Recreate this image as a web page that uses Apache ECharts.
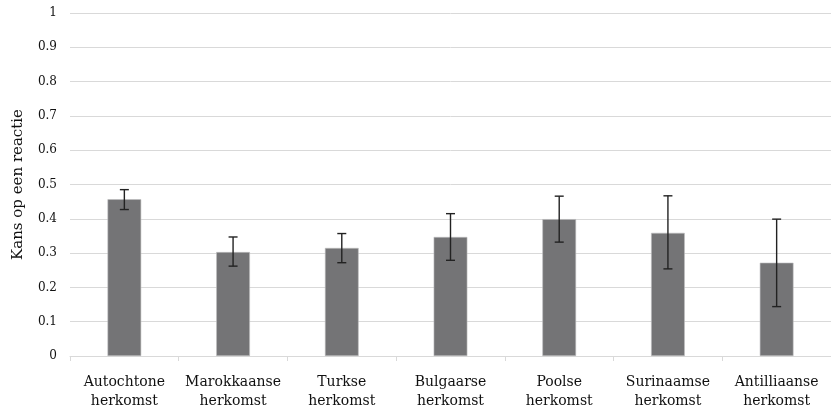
<!DOCTYPE html>
<html><head><meta charset="utf-8">
<script src="https://cdn.jsdelivr.net/npm/echarts@6/dist/echarts.min.js"></script>
<style>html,body{margin:0;padding:0;background:#fff}#c{width:831px;height:410px}</style>
</head><body><div id="c"></div>
<script>
const categories = ['Autochtone\nherkomst','Marokkaanse\nherkomst','Turkse\nherkomst','Bulgaarse\nherkomst','Poolse\nherkomst','Surinaamse\nherkomst','Antilliaanse\nherkomst'];
const values = [0.457, 0.303, 0.315, 0.347, 0.399, 0.359, 0.272];
const errLow = [0.427, 0.262, 0.272, 0.279, 0.332, 0.254, 0.144];
const errHigh = [0.485, 0.347, 0.357, 0.415, 0.466, 0.467, 0.399];

const font = '"DejaVu Serif", "Liberation Serif", serif';
const chart = echarts.init(document.getElementById('c'));
chart.setOption({
  animation: false,
  grid: {left: 70, right: 0, top: 13, bottom: 54, containLabel: false, outerBoundsMode: 'none'},
  xAxis: {
    type: 'category', data: categories,
    axisLine: {lineStyle: {color: '#d9d9d9', width: 1}},
    axisTick: {show: true, interval: 0, length: 5, lineStyle: {color: '#d9d9d9'}},
    axisLabel: {interval: 0, hideOverlap: false, color: '#111', fontFamily: font, fontSize: 14, lineHeight: 19, margin: 17}
  },
  yAxis: {
    type: 'value', min: 0, max: 1, interval: 0.1,
    name: 'Kans op een reactie', nameLocation: 'middle', nameGap: 44, nameRotate: 90,
    nameTextStyle: {color: '#111', fontFamily: font, fontSize: 15},
    axisLine: {show: false}, axisTick: {show: false},
    splitLine: {lineStyle: {color: '#d9d9d9', width: 1}},
    axisLabel: {color: '#111', fontFamily: font, fontSize: 12, margin: 13,
      formatter: v => String(Math.round(v*10)/10)}
  },
  series: [{
    type: 'bar', data: values, barWidth: '31%',
    itemStyle: {color: '#747476', borderColor: '#bdbdbf', borderWidth: 0.6}
  }, {
    type: 'custom',
    data: categories.map((c, i) => [i, errLow[i], errHigh[i]]),
    renderItem: function (params, api) {
      const x = api.value(0);
      const lo = api.coord([x, api.value(1)]);
      const hi = api.coord([x, api.value(2)]);
      const hw = 4.5;
      const style = {stroke: '#222', lineWidth: 1.4};
      return {type: 'group', children: [
        {type: 'line', shape: {x1: lo[0], y1: lo[1], x2: hi[0], y2: hi[1]}, style},
        {type: 'line', shape: {x1: lo[0]-hw, y1: lo[1], x2: lo[0]+hw, y2: lo[1]}, style},
        {type: 'line', shape: {x1: hi[0]-hw, y1: hi[1], x2: hi[0]+hw, y2: hi[1]}, style}
      ]};
    },
    z: 5
  }]
});
</script></body></html>
